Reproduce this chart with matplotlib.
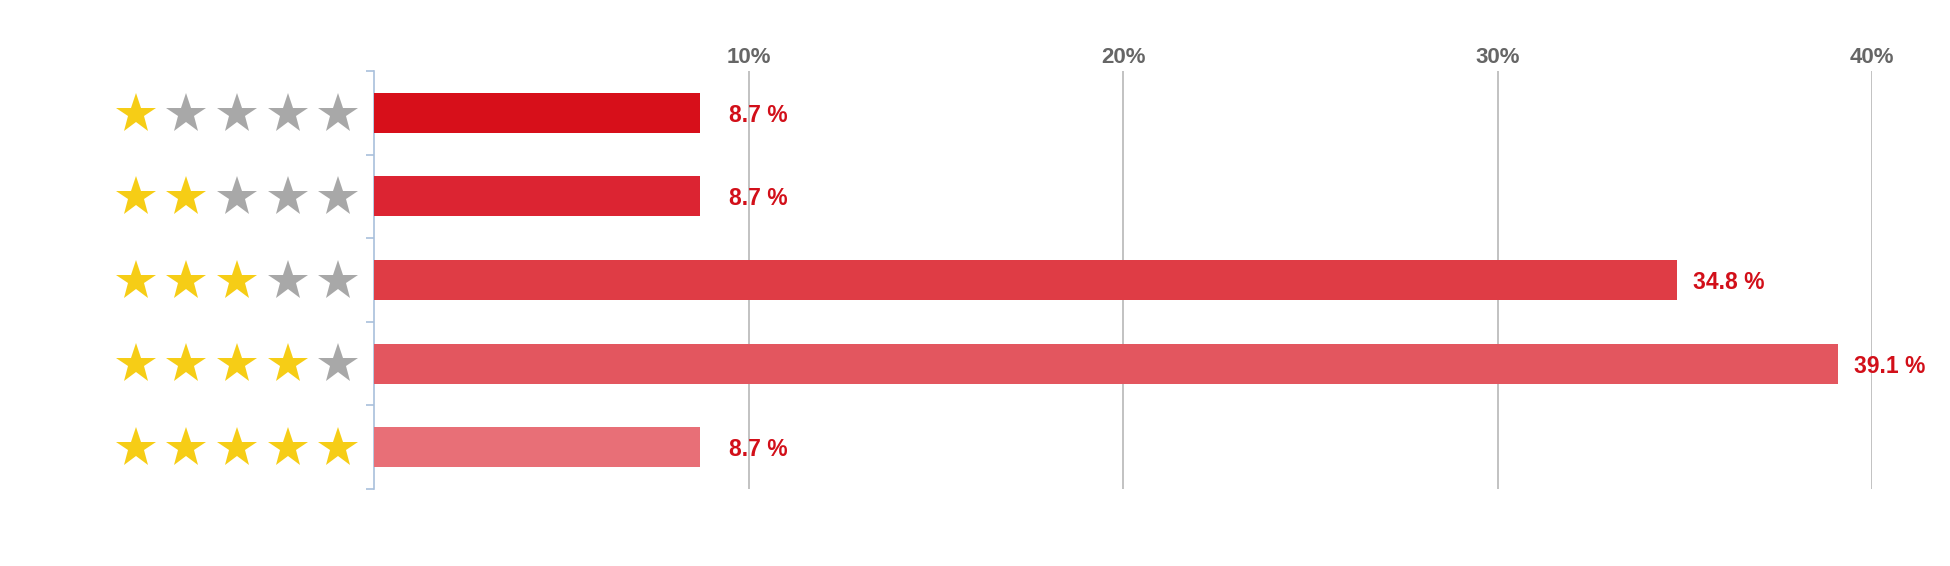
import matplotlib.pyplot as plt
import numpy as np

plt.rcParams['font.family'] = ['Liberation Sans', 'DejaVu Sans']

ratings = [1, 2, 3, 4, 5]
percents = [8.7, 8.7, 34.8, 39.1, 8.7]
bar_colors = ["#d70f1a", "#dc2432", "#df3c45", "#e3565f", "#e86f77"]
tick_values = [10, 20, 30, 40]
tick_labels = ["10%", "20%", "30%", "40%"]
# gap between bar end and its label, in points (short bars get a wider gap)
label_gap = [21, 21, 11.5, 11, 21]

W, H = 1950, 566
fig = plt.figure(figsize=(W / 100, H / 100), dpi=100)

left, right, top, bottom = 374, 1872, 71, 489
ax = fig.add_axes([left / W, 1 - bottom / H, (right - left) / W, (bottom - top) / H])

y = np.arange(len(ratings))
ax.barh(y, percents, height=0.48, color=bar_colors, zorder=3)

for yi, v, g in zip(y, percents, label_gap):
    ax.annotate(f"{v} %", (v, yi), xytext=(g, 0), textcoords="offset points",
                ha="left", va="center_baseline", fontsize=16.5, fontweight="bold",
                color="#d20f19", annotation_clip=False, zorder=4)

ax.set_xlim(0, 40)
ax.set_ylim(len(ratings) - 0.5, -0.5)

ax.xaxis.tick_top()
ax.set_xticks(tick_values)
ax.set_xticklabels(tick_labels, fontsize=16, fontweight="bold", color="#666666")
ax.tick_params(axis="x", length=0, pad=2)
ax.grid(axis="x", color="#bdbdbd", linewidth=1.3, zorder=0)

ax.set_yticks(np.arange(-0.5, len(ratings), 1.0))
ax.set_yticklabels([])
ax.tick_params(axis="y", length=6, color="#a9c0dc", width=1.2)

for s in ["top", "right", "bottom"]:
    ax.spines[s].set_visible(False)
ax.spines["left"].set_color("#a9c0dc")
ax.spines["left"].set_linewidth(1.2)

# stars as the row labels
sax = fig.add_axes([0, 1 - bottom / H, left / W, (bottom - top) / H])
sax.set_xlim(-2.69, 4.71)
sax.set_ylim(len(ratings) - 0.5, -0.5)
sax.axis("off")
for yi, r in zip(y, ratings):
    for k in range(5):
        c = "#f6cd16" if k < r else "#a8a8a8"
        sax.plot(k, yi + 0.01, marker="*", markersize=30, color=c,
                 markeredgewidth=0, linestyle="none")

fig.savefig("out.png", dpi=100)
